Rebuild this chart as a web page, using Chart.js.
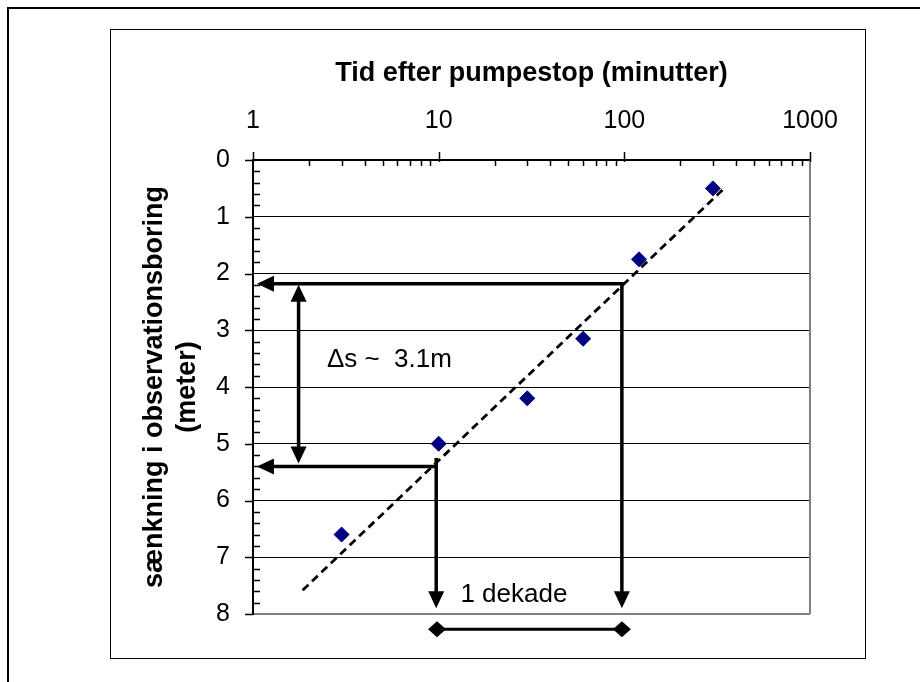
<!DOCTYPE html>
<html>
<head>
<meta charset="utf-8">
<script src="https://cdn.jsdelivr.net/npm/chart.js@4.4.1/dist/chart.umd.min.js"></script>
<style>
  body { margin: 0; background: #fff; }
  canvas { display: block; }
</style>
</head>
<body>
<canvas id="chart" width="920" height="682"></canvas>
<script>
// målte punkter: tid efter pumpestop (min) og sænkning (m)
const tid = [3, 10, 30, 60, 120, 300];
const saenkning = [6.6, 5.0, 4.2, 3.15, 1.75, 0.5];

// tendenslinje, endepunkter
const linjeTid = [1.85, 340];
const linjeSaenkning = [7.58, 0.52];

// akser
const xTicks = [1, 10, 100, 1000];
const yTicks = [0, 1, 2, 3, 4, 5, 6, 7, 8];

// pile i data-enheder (x = tid, y = sænkning)
const pile = [
  { x: [1.05, 97, 97], y: [2.18, 2.18, 7.9], start: true, slut: true },
  { x: [1.05, 9.7], y: [5.4, 5.4], start: true, slut: false },
  { x: [9.7, 9.7], y: [5.25, 7.9], start: false, slut: true },
  { x: [1.76, 1.76], y: [2.2, 5.35], start: true, slut: true }
];

// dekade-markering under aksen
const dekadeTid = [9.8, 97];
const dekadeSaenkning = [8.27, 8.27];

// tekster i figuren
const tekster = ['Δs ~  3.1m', '1 dekade'];
const tekstTid = [2.5, 13.1];
const tekstSaenkning = [3.52, 7.66];

Chart.defaults.font.family = "'Liberation Sans', Arial, sans-serif";
Chart.defaults.color = '#000';

// ramme rundt om diagrammet
const rammePlugin = {
  id: 'ramme',
  beforeDraw(chart) {
    const ctx = chart.ctx;
    ctx.save();
    ctx.fillStyle = '#fff';
    ctx.fillRect(0, 0, chart.width, chart.height);
    ctx.strokeStyle = '#000';
    ctx.lineWidth = 2;
    ctx.beginPath();
    ctx.moveTo(8, chart.height);
    ctx.lineTo(8, 8);
    ctx.lineTo(chart.width, 8);
    ctx.stroke();
    ctx.lineWidth = 1;
    ctx.strokeRect(110.5, 29.5, 755, 629);
    ctx.restore();
  },
  afterDraw(chart) {
    const ctx = chart.ctx;
    const a = chart.chartArea;
    const x = chart.scales.x;
    const y = chart.scales.y;
    ctx.save();
    // grå kant til højre
    ctx.strokeStyle = '#808080';
    ctx.lineWidth = 2;
    ctx.beginPath();
    ctx.moveTo(a.right, a.top);
    ctx.lineTo(a.right, a.bottom);
    ctx.stroke();
    // tick-mærker
    ctx.strokeStyle = '#000';
    ctx.lineWidth = 1.5;
    ctx.beginPath();
    x.ticks.forEach(t => {
      const px = Math.round(x.getPixelForValue(t.value)) + 0.5;
      if (xTicks.includes(t.value)) {
        ctx.moveTo(px, a.top - 8);
        ctx.lineTo(px, a.top + 2);
      } else {
        ctx.moveTo(px, a.top);
        ctx.lineTo(px, a.top + 6);
      }
    });
    for (let v = y.min; v <= y.max + 0.001; v += 0.2) {
      const py = Math.round(y.getPixelForValue(v)) + 0.5;
      const hel = Math.abs(v - Math.round(v)) < 0.01;
      if (hel) {
        ctx.moveTo(a.left - 8, py);
        ctx.lineTo(a.left, py);
      } else {
        ctx.moveTo(a.left, py);
        ctx.lineTo(a.left + 7, py);
      }
    }
    ctx.stroke();
    ctx.restore();
  },
  afterDatasetsDraw(chart) {
    const ctx = chart.ctx;
    const x = chart.scales.x;
    const y = chart.scales.y;
    ctx.save();
    ctx.strokeStyle = '#000';
    ctx.fillStyle = '#000';
    ctx.lineWidth = 3.5;

    const hoved = (tx, ty, fx, fy) => {
      const vinkel = Math.atan2(ty - fy, tx - fx);
      const l = 17, b = 8;
      ctx.beginPath();
      ctx.moveTo(tx, ty);
      ctx.lineTo(tx - l * Math.cos(vinkel) + b * Math.sin(vinkel), ty - l * Math.sin(vinkel) - b * Math.cos(vinkel));
      ctx.lineTo(tx - l * Math.cos(vinkel) - b * Math.sin(vinkel), ty - l * Math.sin(vinkel) + b * Math.cos(vinkel));
      ctx.closePath();
      ctx.fill();
    };

    pile.forEach(p => {
      const pts = p.x.map((v, i) => [x.getPixelForValue(v), y.getPixelForValue(p.y[i])]);
      const n = pts.length;
      // forkort linjen så den ikke stikker ud af spidsen
      const kort = (a, b) => {
        const d = Math.hypot(b[0] - a[0], b[1] - a[1]);
        return [a[0] + (b[0] - a[0]) * 12 / d, a[1] + (b[1] - a[1]) * 12 / d];
      };
      const linje = pts.map(q => q.slice());
      if (p.start) linje[0] = kort(pts[0], pts[1]);
      if (p.slut) linje[n - 1] = kort(pts[n - 1], pts[n - 2]);
      ctx.beginPath();
      ctx.lineJoin = 'miter';
      linje.forEach((q, i) => i ? ctx.lineTo(q[0], q[1]) : ctx.moveTo(q[0], q[1]));
      ctx.stroke();
      if (p.start) hoved(pts[0][0], pts[0][1], pts[1][0], pts[1][1]);
      if (p.slut) hoved(pts[n - 1][0], pts[n - 1][1], pts[n - 2][0], pts[n - 2][1]);
    });

    // dekade-linje med rudeformede ender
    const dx = dekadeTid.map(v => x.getPixelForValue(v));
    const dy = dekadeSaenkning.map(v => y.getPixelForValue(v));
    ctx.lineWidth = 3;
    ctx.beginPath();
    ctx.moveTo(dx[0], dy[0]);
    ctx.lineTo(dx[1], dy[1]);
    ctx.stroke();
    dx.forEach((px, i) => {
      const py = dy[i];
      ctx.beginPath();
      ctx.moveTo(px - 9, py);
      ctx.lineTo(px, py - 8);
      ctx.lineTo(px + 9, py);
      ctx.lineTo(px, py + 8);
      ctx.closePath();
      ctx.fill();
    });

    // tekster
    ctx.font = "26px 'Liberation Sans', Arial, sans-serif";
    ctx.textAlign = 'left';
    ctx.textBaseline = 'middle';
    tekster.forEach((t, i) => {
      ctx.fillText(t, x.getPixelForValue(tekstTid[i]), y.getPixelForValue(tekstSaenkning[i]));
    });
    ctx.restore();
  }
};

new Chart(document.getElementById('chart'), {
  type: 'scatter',
  data: {
    datasets: [
      {
        label: 'Målinger',
        data: tid.map((t, i) => ({ x: t, y: saenkning[i] })),
        pointStyle: 'rectRot',
        pointRadius: 7.5,
        pointHoverRadius: 7.5,
        backgroundColor: '#000080',
        borderColor: '#000080',
        borderWidth: 1,
        order: 1
      },
      {
        label: 'Tendens',
        data: linjeTid.map((t, i) => ({ x: t, y: linjeSaenkning[i] })),
        showLine: true,
        pointRadius: 0,
        borderColor: '#000',
        borderWidth: 2.8,
        borderDash: [8, 5],
        order: 2
      }
    ]
  },
  options: {
    responsive: false,
    animation: false,
    layout: { padding: { left: 0, top: 0, right: 110, bottom: 68 } },
    plugins: {
      legend: { display: false },
      tooltip: { enabled: false }
    },
    scales: {
      x: {
        type: 'logarithmic',
        position: 'top',
        min: 1,
        max: 1000,
        afterBuildTicks(scale) {
          const t = [];
          for (let d = 1; d < 1000; d *= 10) {
            for (let k = 1; k < 10; k++) t.push({ value: k * d });
          }
          t.push({ value: 1000 });
          scale.ticks = t;
        },
        afterFit(scale) { scale.height = 160; },
        ticks: {
          autoSkip: false,
          maxRotation: 0,
          padding: 24,
          font: { size: 25 },
          callback: v => xTicks.includes(v) ? String(v) : ''
        },
        grid: { display: true, drawOnChartArea: false, drawTicks: false },
        border: { display: true, color: '#000', width: 2 },
        title: {
          display: true,
          text: 'Tid efter pumpestop (minutter)',
          font: { size: 27, weight: 'bold' },
          padding: { top: 57, bottom: 0 }
        }
      },
      y: {
        reverse: true,
        min: 0,
        max: 8,
        afterBuildTicks(scale) { scale.ticks = yTicks.map(v => ({ value: v })); },
        afterFit(scale) { scale.width = 253; },
        ticks: {
          padding: 23,
          font: { size: 25 }
        },
        grid: {
          drawTicks: false,
          color: ctx => ctx.tick && ctx.tick.value === 8 ? '#808080' : '#000',
          lineWidth: ctx => ctx.tick && ctx.tick.value === 8 ? 2 : 1
        },
        border: { display: true, color: '#000', width: 2 },
        title: {
          display: true,
          text: ['sænkning i observationsboring', '(meter)'],
          font: { size: 27, weight: 'bold', lineHeight: 1.22 },
          padding: { top: 138, bottom: 0 }
        }
      }
    }
  },
  plugins: [rammePlugin]
});
</script>
</body>
</html>
